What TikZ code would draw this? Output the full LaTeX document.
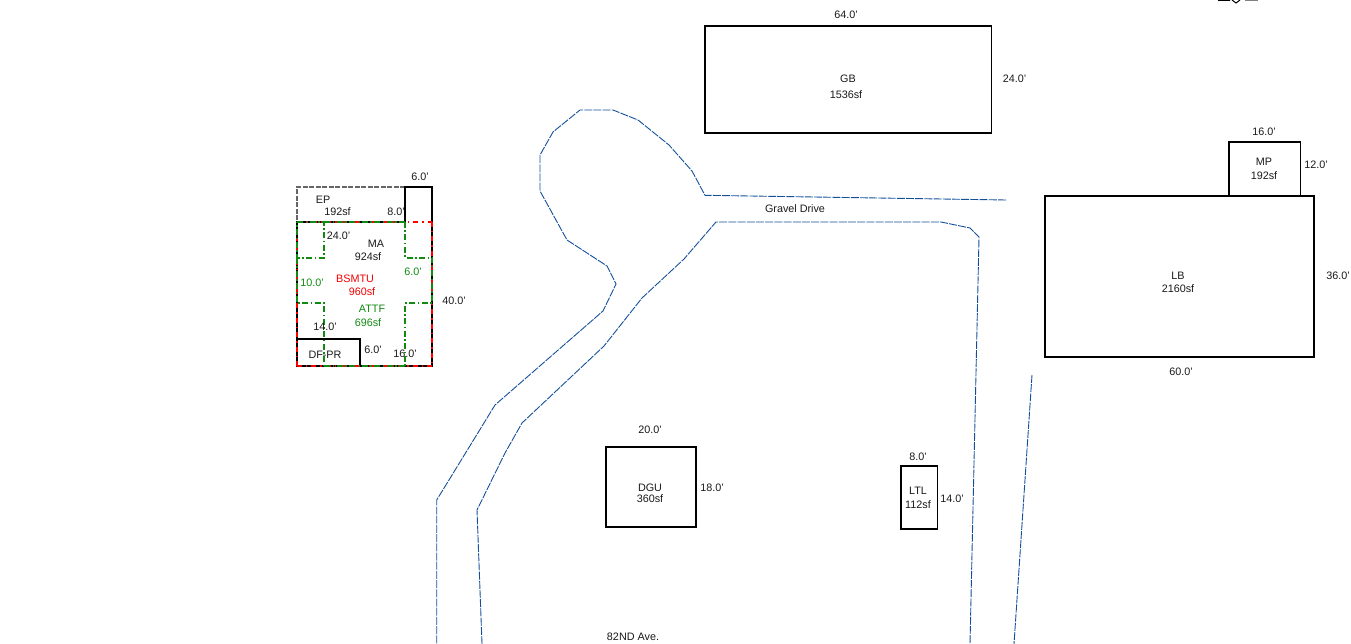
\documentclass[tikz,border=0pt]{standalone}
\usepackage{fontspec}
\setmainfont{Liberation Sans}
\definecolor{road}{HTML}{14509A}
\definecolor{attf}{HTML}{108A10}
\tikzset{
  lbl/.style={inner sep=0pt,font=\fontsize{10.8}{12.6}\selectfont,align=center,text=black!90},
  redlbl/.style={lbl,text=red!95!black},
  greenlbl/.style={lbl,text=attf},
  bldg/.style={draw=black,line width=1.15pt},
  roadline/.style={draw=road,line width=0.9pt,dash pattern=on 8pt off 1.2pt},
  eppath/.style={draw=black!60,line width=1.1pt,dash pattern=on 5pt off 1.5pt},
  bsmt/.style={draw=red,line width=1.15pt,dash pattern=on 5pt off 4pt on 1.5pt off 4pt},
  att/.style={draw=attf,line width=1.15pt,dash pattern=on 6pt off 2.5pt on 1.5pt off 2.5pt},
}
\begin{document}
\begin{tikzpicture}[x=1pt,y=-1pt]
\useasboundingbox (0,0) rectangle (1351,644);
% roads
\draw[roadline] (1006,200) -- (705,195.3) -- (692,171) -- (669,145) -- (638,120) -- (613,110) -- (580,110) -- (553,132) -- (540,155) -- (540,191) -- (567,240) -- (607,266) -- (616,284) -- (603,311) -- (495,405) -- (436.7,500) -- (436.7,644);
\draw[roadline] (482,644) -- (477,510) -- (505,453) -- (522,423) -- (604,346) -- (642,298) -- (684,259) -- (716,222) -- (941,222) -- (970,228) -- (979,237) -- (970,644);
\draw[roadline] (1032,375) -- (1014,644);
% top right fragment
\draw[black,line width=1pt] (1218,0.5) -- (1230,0.5) (1232,0) -- (1236,3) -- (1240,0);
\draw[black!50,line width=1pt] (1245,0.5) -- (1258,0.5);
% buildings
\draw[bldg] (705,26) rectangle (991.3,133);
\draw[bldg] (1229,142) rectangle (1300.3,196);
\draw[bldg] (1045,196) rectangle (1314,357);
\draw[bldg] (606,447) rectangle (696,527);
\draw[bldg] (901,466) rectangle (937.3,529);
% MA outline
\draw[eppath] (405,187) -- (297,187) -- (297,222);
\draw[black,line width=1.15pt] (405,222) -- (405,187) -- (432,187) -- (432,366) -- (297,366) -- (297,222) -- (405,222);
\draw[bldg] (297,339) -- (360,339) -- (360,366);
% basement
\draw[bsmt] (297,222) -- (432,222);
\draw[bsmt] (432,222) -- (432,366);
\draw[bsmt] (432,366) -- (297,366);
\draw[bsmt] (297,366) -- (297,222);
% attic
\draw[att] (297,222) -- (324,222) -- (324,258) -- (297,258) -- (297,222);
\draw[att] (405,222) -- (405,258) -- (432,258) -- (432,303) -- (405,303) -- (405,366);
\draw[att] (297,258) -- (297,303) -- (324,303) -- (324,366);
\draw[att] (324,366) -- (405,366);
\draw[att] (324,222) -- (405,222);
% labels
\node[lbl] (l1) at (846,15) {64.0'};
\node[lbl] (l2) at (848,79) {GB};
\node[lbl] (l3) at (846,95) {1536sf};
\node[lbl] (l4) at (1014.5,79) {24.0'};
\node[lbl] (l5) at (1264,132) {16.0'};
\node[lbl] (l6) at (1264,162) {MP};
\node[lbl] (l7) at (1264,176) {192sf};
\node[lbl] (l8) at (1316,165) {12.0'};
\node[lbl] (l9) at (1338,276) {36.0'};
\node[lbl] (l10) at (1178,276) {LB};
\node[lbl] (l11) at (1178,289) {2160sf};
\node[lbl] (l12) at (1181,372) {60.0'};
\node[lbl] (l13) at (795,208.5) {Gravel Drive};
\node[lbl] (l14) at (650,430) {20.0'};
\node[lbl] (l15) at (650,488) {DGU};
\node[lbl] (l16) at (650,499) {360sf};
\node[lbl] (l17) at (712,487.5) {18.0'};
\node[lbl] (l18) at (918,457) {8.0'};
\node[lbl] (l19) at (918,491) {LTL};
\node[lbl] (l20) at (918,505) {112sf};
\node[lbl] (l21) at (952,499) {14.0'};
\node[lbl] (l22) at (633,637) {82ND Ave.};
\node[lbl] (l23) at (420,177) {6.0'};
\node[lbl] (l24) at (323,200) {EP};
\node[lbl] (l25) at (337.5,212) {192sf};
\node[lbl] (l26) at (396,212) {8.0'};
\node[lbl] (l27) at (338.5,236) {24.0'};
\node[lbl] (l28) at (376,244) {MA};
\node[lbl] (l29) at (368,257) {924sf};
\node[greenlbl] (l30) at (413,272) {6.0'};
\node[greenlbl] (l31) at (312,283) {10.0'};
\node[redlbl] (l32) at (355,279) {BSMTU};
\node[redlbl] (l33) at (362,292) {960sf};
\node[lbl] (l34) at (454,301) {40.0'};
\node[greenlbl] (l35) at (372,309) {ATTF};
\node[greenlbl] (l36) at (368,323) {696sf};
\node[lbl] (l37) at (325,327) {14.0'};
\node[lbl] (l38) at (373,350) {6.0'};
\node[lbl] (l39) at (325,355) {DF-PR};
\node[lbl] (l40) at (405,354) {16.0'};
\end{tikzpicture}
\end{document}
